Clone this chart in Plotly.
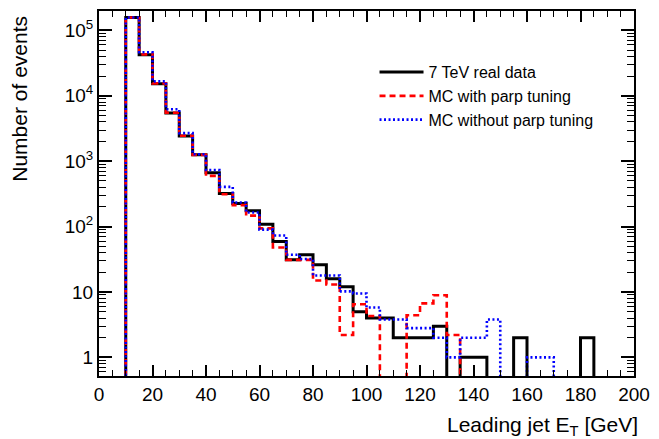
import plotly.graph_objects as go

# ---- data (5 GeV bins from 0 to 200 GeV) ----
bin_edges = list(range(0, 205, 5))

data_7tev = [0, 0, 158000, 42400, 15300, 5470, 2420, 1260, 668, 320,
             225, 175, 109, 59, 31, 37, 26, 16, 12, 5,
             4, 4, 2, 2, 2, 3, 0, 1, 1, 0,
             0, 2, 0, 0, 0, 0, 2, 0, 0, 0]

mc_parp = [0, 0, 158000, 43000, 15500, 5500, 2450, 1250, 596, 313,
           213, 147, 94, 48, 31, 31, 15, 13, 2.2, 6.5,
           4.3, 0, 0, 4.4, 6.7, 8.9, 2.2, 0, 0, 0,
           0, 0, 0, 0, 0, 0, 0, 0, 0, 0]

mc_noparp = [0, 0, 158000, 46400, 16600, 6230, 2690, 1280, 735, 405,
             234, 164, 90, 73, 37, 32, 17.9, 17.9, 10.2, 9.5,
             5.8, 3.8, 3.8, 2.8, 2.8, 2.0, 1, 2, 2, 3.8,
             0, 0, 1, 1, 0, 0, 0, 0, 0, 0]

series_names = ["7 TeV real data", "MC with parp tuning", "MC without parp tuning"]
x_ticks = [0, 20, 40, 60, 80, 100, 120, 140, 160, 180, 200]
y_tickvals = [1, 10, 100, 1000, 10000, 100000]
y_ticktext = ["1", "10", "10<sup>2</sup>", "10<sup>3</sup>", "10<sup>4</sup>", "10<sup>5</sup>"]

FLOOR = 1e-2  # empty bins drawn below the visible range (like ROOT)


def step_xy(vals):
    ys = [v if v > 0 else FLOOR for v in vals]
    return bin_edges, ys + [ys[-1]]


styles = [
    dict(color="black", width=3, dash="solid"),
    dict(color="#ff0000", width=2.6, dash="6px,4px"),
    dict(color="#0000ff", width=2.6, dash="2px,2.5px"),
]

fig = go.Figure()
for vals, name, st in zip([data_7tev, mc_parp, mc_noparp], series_names, styles):
    xs, ys = step_xy(vals)
    fig.add_trace(go.Scatter(x=xs, y=ys, mode="lines", line_shape="hv",
                             name=name, line=st))

FONT = "Liberation Sans, Arial, Helvetica, sans-serif"

fig.update_layout(
    width=659, height=439,
    margin=dict(l=99, r=20, t=9, b=63),
    paper_bgcolor="white", plot_bgcolor="white",
    font=dict(family=FONT, color="black", size=19),
    showlegend=True,
    legend=dict(x=0.515, y=0.879, xanchor="left", yanchor="top",
                bgcolor="rgba(0,0,0,0)", borderwidth=0,
                font=dict(size=16, family=FONT, color="black"),
                itemwidth=44, tracegroupgap=0),
    xaxis=dict(range=[0, 200], tickmode="array", tickvals=x_ticks,
               ticks="inside", ticklen=11, tickwidth=1.5, tickcolor="black",
               showline=True, linecolor="black", linewidth=2, mirror="ticks",
               showgrid=False, zeroline=False,
               tickfont=dict(size=19),
               minor=dict(dtick=5, ticks="inside", ticklen=6, tickwidth=1.2,
                          tickcolor="black", showgrid=False)),
    yaxis=dict(type="log", range=[-0.285, 5.297], tickmode="array",
               tickvals=y_tickvals, ticktext=y_ticktext,
               ticks="inside", ticklen=13, tickwidth=1.5, tickcolor="black",
               showline=True, linecolor="black", linewidth=2, mirror="ticks",
               showgrid=False, zeroline=False,
               tickfont=dict(size=19),
               minor=dict(tickmode="array",
                          tickvals=[m * 10 ** e for e in range(-1, 6) for m in range(2, 10)],
                          ticks="inside", ticklen=7, tickwidth=1.2,
                          tickcolor="black", showgrid=False)),
    annotations=[
        dict(text="Leading jet E<sub>T</sub> [GeV]", xref="paper", yref="paper",
             x=1.011, y=-0.095, xanchor="right", yanchor="top", showarrow=False,
             font=dict(size=21, family=FONT, color="black")),
        dict(text="Number of events", xref="paper", yref="paper",
             x=-0.148, y=0.992, xanchor="center", yanchor="top", textangle=-90,
             showarrow=False, font=dict(size=21, family=FONT, color="black")),
    ],
)

fig.write_html("out.html")
